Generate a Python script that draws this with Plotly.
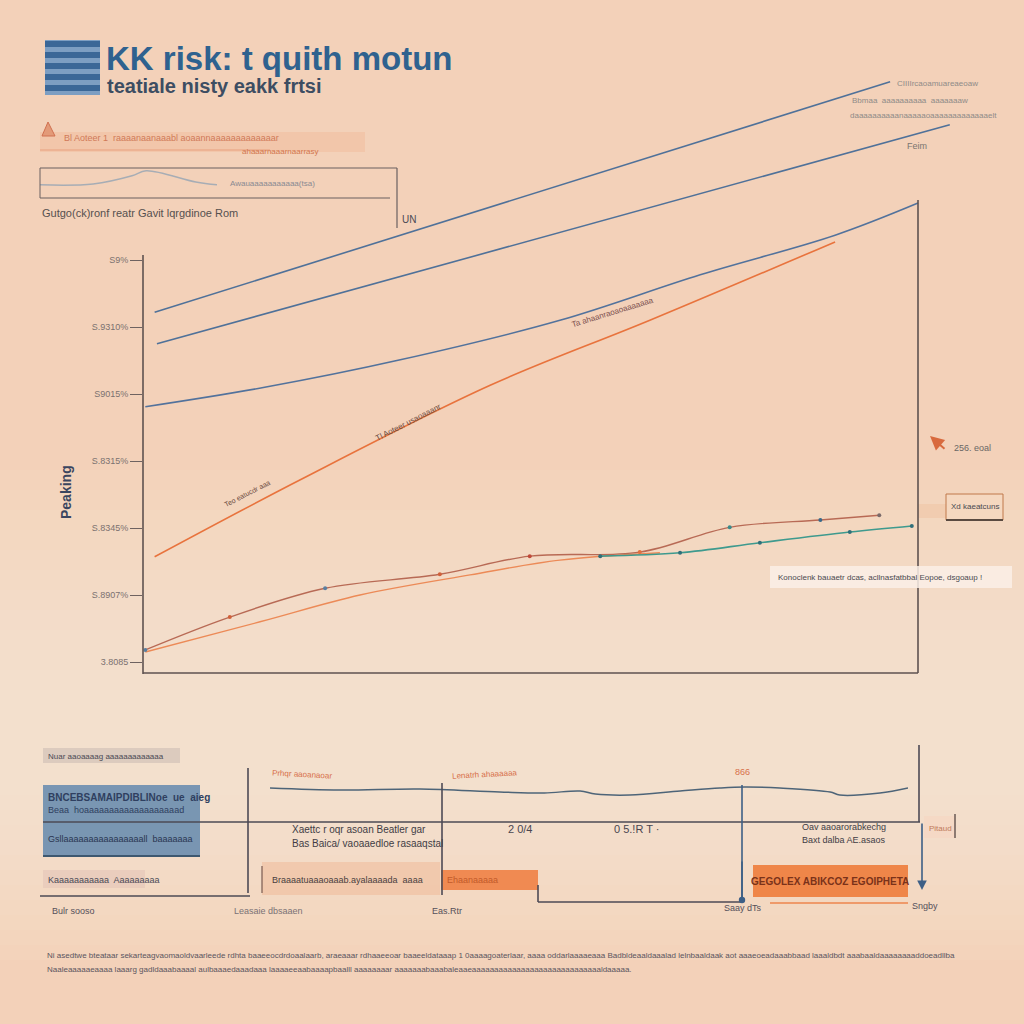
import plotly.graph_objects as go

# ---------------- data ----------------
ytick_vals = [0, 1, 2, 3, 4, 5, 6]
ytick_text = ["3.8085", "S.8907%", "S.8345%", "S.8315%", "S9015%", "S.9310%", "S9%"]

blue1_x = [0.15, 9.64]
blue1_y = [5.22, 8.66]
blue2_x = [0.18, 10.41]
blue2_y = [4.75, 8.02]
blue3_x = [0.03, 1.57, 3.32, 5.38, 7.19, 8.93, 10.0]
blue3_y = [3.81, 4.10, 4.51, 5.10, 5.78, 6.37, 6.85]
orange_x = [0.15, 2.03, 4.48, 6.54, 8.93]
orange_y = [1.57, 2.72, 4.13, 5.10, 6.27]
lowA_x = [0.03, 1.12, 2.35, 3.83, 4.99, 6.41, 7.57, 8.74, 9.50]
lowA_y = [0.18, 0.67, 1.10, 1.31, 1.58, 1.64, 2.01, 2.12, 2.19]
lowB_x = [0.03, 1.51, 2.80, 4.22, 5.38, 6.67]
lowB_y = [0.15, 0.60, 1.00, 1.30, 1.52, 1.63]
teal_x = [5.90, 6.93, 7.96, 9.12, 9.92]
teal_y = [1.58, 1.63, 1.78, 1.94, 2.03]

wave_x = [0, 11, 23.5, 36, 43, 48.6, 51, 56.4, 64.3, 70.5, 74.4, 79.9, 87.8, 89.3, 95.6, 100]
wave_y = [5.5, 5.0, 5.25, 4.5, 4.25, 4.75, 4.0, 3.75, 4.75, 5.5, 5.75, 5.5, 4.5, 3.75, 4.25, 5.5]

mini_x = [0, 3, 5.2, 6, 8.8, 10]
mini_y = [4, 4.3, 7.2, 9, 5, 4]

FONT = "Liberation Sans Narrow, Liberation Sans, Arial Narrow, sans-serif"

def X(p):
    return p / 1024.0

def Y(p):
    return 1 - p / 1024.0

fig = go.Figure()

# main lines
fig.add_trace(go.Scatter(x=blue1_x, y=blue1_y, mode="lines", line=dict(color="#4f7199", width=1.6)))
fig.add_trace(go.Scatter(x=blue2_x, y=blue2_y, mode="lines", line=dict(color="#4f7199", width=1.6)))
fig.add_trace(go.Scatter(x=blue3_x, y=blue3_y, mode="lines", line=dict(color="#52729c", width=1.6, shape="spline")))
fig.add_trace(go.Scatter(x=orange_x, y=orange_y, mode="lines", line=dict(color="#e8733d", width=1.6, shape="spline")))
fig.add_trace(go.Scatter(x=lowB_x, y=lowB_y, mode="lines", line=dict(color="#ec8a57", width=1.4, shape="spline")))
fig.add_trace(go.Scatter(x=lowA_x, y=lowA_y, mode="lines+markers", line=dict(color="#b86a55", width=1.4, shape="spline"),
                         marker=dict(size=4, color=["#5a7fa0", "#d0603a", "#5a7fa0", "#d0603a", "#c04a3a",
                                                    "#e07040", "#3a8a8a", "#3a6a8a", "#7a6a6a"])))
fig.add_trace(go.Scatter(x=teal_x, y=teal_y, mode="lines+markers", line=dict(color="#3e9a8e", width=1.6, shape="spline"),
                         marker=dict(size=4, color="#2f6f7a")))

# bottom wavy line
fig.add_trace(go.Scatter(x=wave_x, y=wave_y, xaxis="x2", yaxis="y2", mode="lines",
                         line=dict(color="#4d6478", width=1.5, shape="spline")))
# mini grey line in top-left box
fig.add_trace(go.Scatter(x=mini_x, y=mini_y, xaxis="x3", yaxis="y3", mode="lines",
                         line=dict(color="#a7adb5", width=1.5, shape="spline")))

shapes = []
def line(x0, y0, x1, y1, color="#5b5150", width=1.5):
    shapes.append(dict(type="line", xref="paper", yref="paper", x0=X(x0), y0=Y(y0), x1=X(x1), y1=Y(y1),
                       line=dict(color=color, width=width)))

def rect(x0, y0, x1, y1, fill, lc="rgba(0,0,0,0)", lw=0, layer="below"):
    shapes.append(dict(type="rect", xref="paper", yref="paper", x0=X(x0), y0=Y(y0), x1=X(x1), y1=Y(y1),
                       fillcolor=fill, line=dict(color=lc, width=lw), layer=layer))

# soft background gradient (stacked translucent bands)
for i in range(12):
    top = 470 + i * 20
    bot = 960 - i * 15
    rect(0, top, 1024, bot, "rgba(250,236,226,0.07)")

# main axes lines
line(143, 255, 143, 674, "#5e5250", 1.6)
line(143, 673, 918, 673, "#5e5250", 1.6)
line(918, 200, 918, 673, "#5e5250", 1.6)

# title icon stripes
rect(45, 40, 100, 95, "#7d9ec2", layer="above")
for i in range(5):
    rect(45, 41 + i * 11, 100, 47 + i * 11, "#3b6797", layer="above")

# top left mini legend
shapes.append(dict(type="path", xref="paper", yref="paper",
                   path=f"M {X(42)} {Y(136)} L {X(48)} {Y(122)} L {X(55)} {Y(136)} Z",
                   fillcolor="#e39a78", line=dict(color="#d07050", width=1)))
rect(40, 132, 365, 152, "rgba(240,160,120,0.22)")
line(40, 150, 270, 150, "#e8a07e", 1.2)
line(40, 168, 397, 168, "#6a6060", 1.2)
line(40, 198, 390, 198, "#6a6060", 1.2)
line(40, 168, 40, 198, "#6a6060", 1.0)
line(397, 168, 397, 228, "#6a6060", 1.2)

# right side boxes
rect(918, 504, 946, 518, "rgba(240,200,170,0.7)")
rect(946, 494, 1003, 520, "#f5d8c0", "#c0784a", 1, layer="above")
line(946, 520, 1003, 520, "#5a4a40", 2)
rect(770, 566, 1012, 588, "rgba(250,238,230,0.85)", layer="above")

# bottom panel
rect(43, 748, 180, 763, "rgba(200,185,178,0.55)")
rect(43, 785, 200, 856, "rgba(80,125,170,0.75)")
line(43, 856, 200, 856, "#3e5870", 2)
rect(43, 870, 145, 888, "rgba(230,200,185,0.7)")
line(43, 822, 920, 822, "#4d4a55", 1.6)
line(40, 896, 250, 896, "#4d4a55", 1.6)
line(538, 902, 742, 902, "#4d4a55", 1.6)
line(538, 885, 538, 902, "#4d4a55", 1.6)
line(248, 768, 248, 893, "#4d4a55", 1.6)
line(442, 783, 442, 895, "#4d4a55", 1.6)
line(742, 785, 742, 898, "#3d5f86", 1.6)
line(919, 745, 919, 822, "#4d4a55", 1.6)
rect(262, 862, 440, 895, "rgba(240,180,145,0.45)")
line(262, 866, 262, 893, "#7a5a50", 1.2)
rect(441, 870, 538, 890, "#f08a52")
rect(753, 865, 908, 897, "#ef8649")
line(770, 903, 908, 903, "#ef9a6a", 2)
rect(924, 816, 955, 838, "rgba(245,215,195,0.8)")
line(955, 814, 955, 838, "#6a5a55", 1.5)

annotations = []
def txt(x, y, s, size=9, color="#5f5a58", anchor="left", angle=0, bold=False, font=FONT):
    annotations.append(dict(x=X(x), y=Y(y), xref="paper", yref="paper", text=(f"<b>{s}</b>" if bold else s),
                            showarrow=False, xanchor=anchor, yanchor="middle", textangle=angle,
                            font=dict(size=size, color=color, family=font)))

def arrow(x, y, tx, ty, color, width=1.6, head=2, size=1.2):
    annotations.append(dict(x=X(x), y=Y(y), xref="paper", yref="paper", axref="pixel", ayref="pixel",
                            ax=tx - x, ay=ty - y, showarrow=True, arrowhead=head, arrowsize=size,
                            arrowwidth=width, arrowcolor=color, text=""))

# title
txt(104, 58, "KK risk: t quith motun", 33, "#2f628f", bold=True)
txt(105, 86, "teatiale nisty eakk frtsi", 20, "#3d4d62", bold=True)

txt(62, 138, "Bl Aoteer 1  raaaanaanaaabl aoaannaaaaaaaaaaaaar", 9, "#d07a58")
txt(240, 151, "ahaaarnaaarnaarrasy", 8, "#d2764e")
txt(228, 183, "Awauaaaaaaaaaaa(tsa)", 8, "#8a8a92")
txt(40, 213, "Gutgo(ck)ronf reatr Gavit lqrgdinoe Rom", 11, "#55504f")
txt(400, 219, "UN", 10, "#4a4a55")

txt(895, 83, "CIIIIrcaoamuareaeoaw", 8, "#8f8b88")
txt(850, 100, "Bbmaa  aaaaaaaaaa  aaaaaaaw", 8, "#8f8b88")
txt(848, 115, "daaaaaaaaaanaaaaaoaaaaaaaaaaaaaelt", 8, "#8f8b88")
txt(905, 146, "Feim", 9, "#7a7570")

# y axis title
txt(66, 492, "Peaking", 14, "#3a4560", angle=-90, anchor="center", bold=True)

# line labels
txt(408, 422, "Tl Aoteer usaoaaanr", 8, "#6a4a3e", anchor="center", angle=-27)
txt(247, 493, "Teo eatucdr aaa", 7, "#6a4a3e", anchor="center", angle=-27)
txt(612, 312, "Ta ahaanraoaoaaaaaaa", 8, "#7a4e4e", anchor="center", angle=-17)
txt(952, 448, "256. eoal", 9, "#6a6765")
txt(975, 506, "Xd kaeatcuns", 8, "#4a4a50", anchor="center")
txt(776, 577, "Konoclenk bauaetr dcas, acllnasfatbbal Eopoe, dsgoaup !", 8, "#4a4a50")

# bottom panel texts
txt(46, 756, "Nuar aaoaaaag aaaaaaaaaaaaa", 8, "#4a4a55")
txt(46, 797, "BNCEBSAMAIPDIBLINoe  ue  aieg", 10, "#2f3f60", bold=True)
txt(46, 810, "Beaa  hoaaaaaaaaaaaaaaaaaaad", 9, "#2f3f60")
txt(46, 839, "Gsllaaaaaaaaaaaaaaaall  baaaaaaa", 9, "#2a3550")
txt(46, 880, "Kaaaaaaaaaaa  Aaaaaaaaa", 9, "#4a4a55")
txt(270, 774, "Prhqr aaoanaoar", 8, "#d7704a", angle=3)
txt(450, 774, "Lenatrh ahaaaaaa", 8, "#d7704a", angle=-3)
txt(742, 772, "866", 9, "#d7704a", anchor="center")
txt(290, 829, "Xaettc r oqr asoan Beatler gar", 10, "#3f3c45")
txt(290, 843, "Bas Baica/ vaoaaedloe rasaaqstal", 10, "#3f3c45")
txt(506, 829, "2 0/4", 11, "#4a4650")
txt(612, 829, "0 5.!R T ·", 11, "#4a4650")
txt(800, 827, "Oav aaoarorabkechg", 9, "#3f3c45")
txt(800, 840, "Baxt dalba AE.asaos", 9, "#3f3c45")
txt(927, 828, "Pitaud", 8, "#c07a5a")
txt(270, 880, "Braaaatuaaaoaaab.ayalaaaada  aaaa", 9, "#4a3e3e")
txt(445, 880, "Ehaanaaaaa", 9, "#c25a2a")
txt(830, 881, "GEGOLEX ABIKCOZ EGOIPHETA", 10, "#7a321a", anchor="center", bold=True)
txt(50, 911, "Bulr sooso", 9, "#55505a")
txt(232, 911, "Leasaie dbsaaen", 9, "#7a7275")
txt(430, 911, "Eas.Rtr", 9, "#55505a")
txt(722, 908, "Saay dTs", 9, "#55505a")
txt(910, 906, "Sngby", 9, "#55505a")

# arrows
arrow(742, 900, 742, 860, "#3d5f86", head=6, size=1)
arrow(922, 890, 922, 822, "#3d5f86")
arrow(930, 436, 946, 450, "#d86a3e", width=2, size=1.4)

# footer
f1 = ("Ni asedtwe bteataar sekarteagvaomaoldvaarleede rdhta baaeeocdrdoaalaarb, araeaaar rdhaaeeoar baaeeldataaap 1 0aaaagoaterlaar, aaaa oddarlaaaaeaaa "
      "Badbldeaaldaaalad lelnbaaldaak aot aaaeoeadaaabbaad laaaldbdt aaabaaldaaaaaaaaddoeadllba")
f2 = "Naaleaaaaaeaaaa laaarg gadldaaabaaaal aulbaaaedaaadaaa laaaaeeaabaaaapbaalll aaaaaaaar aaaaaaabaaabaleaaeaaaaaaaaaaaaaaaaaaaaaaaaaaaaaldaaaaa."
txt(45, 955, f1, 8, "#5a5560")
txt(45, 969, f2, 8, "#5a5560")

fig.update_layout(
    width=1024, height=1024,
    margin=dict(l=0, r=0, t=0, b=0),
    paper_bgcolor="#f3d1b9",
    plot_bgcolor="rgba(0,0,0,0)",
    showlegend=False,
    hovermode=False,
    shapes=shapes,
    annotations=annotations,
    xaxis=dict(domain=[X(143), X(1000)], range=[0, (1000 - 143) / 77.5], showgrid=False, zeroline=False,
               showline=False, showticklabels=False, ticks=""),
    yaxis=dict(domain=[Y(673), Y(60)], range=[-11 / 67, 602 / 67], showgrid=False, zeroline=False,
               showline=False, tickmode="array", tickvals=ytick_vals, ticktext=ytick_text, ticks="outside",
               ticklen=12, tickcolor="#6e6260", tickwidth=1.3,
               tickfont=dict(size=9, color="#7b7170", family=FONT)),
    xaxis2=dict(domain=[X(270), X(908)], range=[0, 100], anchor="y2", visible=False),
    yaxis2=dict(domain=[Y(810), Y(770)], range=[0, 10], anchor="x2", visible=False),
    xaxis3=dict(domain=[X(40), X(217)], range=[0, 10], anchor="y3", visible=False),
    yaxis3=dict(domain=[Y(196), Y(168)], range=[0, 10], anchor="x3", visible=False),
)

fig.write_html("out.html", config={"displayModeBar": False},
               post_script="document.body.style.margin='0';document.body.style.background='#f3d1b9';")
